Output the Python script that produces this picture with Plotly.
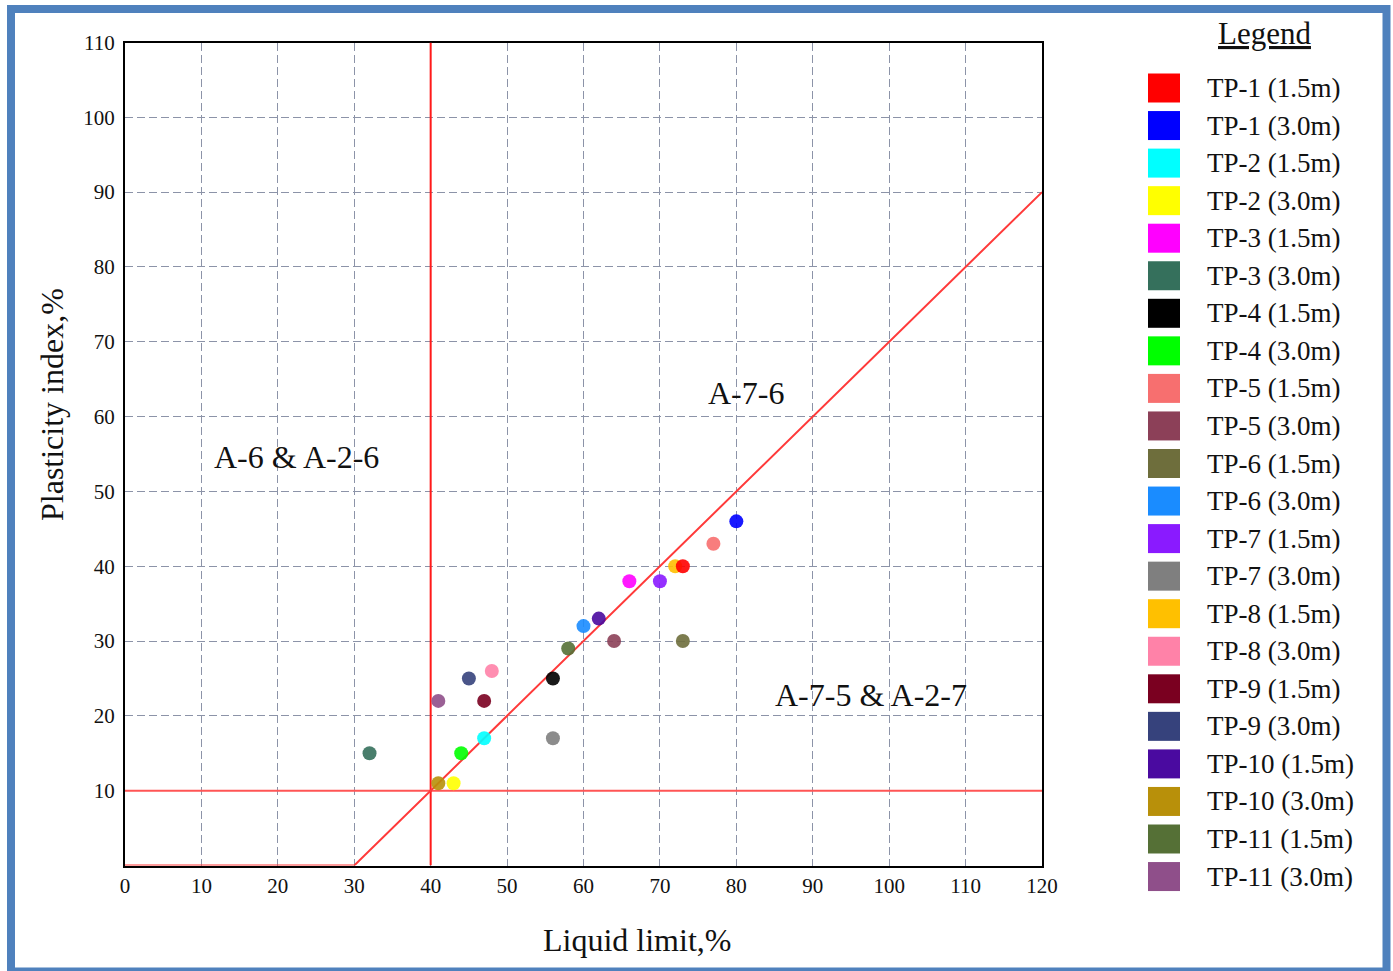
import plotly.graph_objects as go

# ---- sample data: liquid limit (LL, %) and plasticity index (PI, %) ----
samples = [
    "TP-1 (1.5m)", "TP-1 (3.0m)", "TP-2 (1.5m)", "TP-2 (3.0m)",
    "TP-3 (1.5m)", "TP-3 (3.0m)", "TP-4 (1.5m)", "TP-4 (3.0m)",
    "TP-5 (1.5m)", "TP-5 (3.0m)", "TP-6 (1.5m)", "TP-6 (3.0m)",
    "TP-7 (1.5m)", "TP-7 (3.0m)", "TP-8 (1.5m)", "TP-8 (3.0m)",
    "TP-9 (1.5m)", "TP-9 (3.0m)", "TP-10 (1.5m)", "TP-10 (3.0m)",
    "TP-11 (1.5m)", "TP-11 (3.0m)",
]
liquid_limit = [73, 80, 47, 43, 66, 32, 56, 44, 77, 64, 73, 60,
                70, 56, 72, 48, 47, 45, 62, 41, 58, 41]
plasticity_index = [40, 46, 17, 11, 38, 15, 25, 15, 43, 30, 30, 32,
                    38, 17, 40, 26, 22, 25, 33, 11, 29, 22]
colors = [
    "#ff0000", "#0000ff", "#00ffff", "#ffff00",
    "#ff00ff", "#35705c", "#000000", "#00ff00",
    "#f76f6f", "#8c4058", "#6e6e3c", "#1a8cff",
    "#8a1aff", "#7f7f7f", "#ffc000", "#ff82a8",
    "#7a0020", "#36427c", "#4a0aa0", "#b8900a",
    "#557036", "#8f4f8a",
]

# ---- AASHTO classification boundaries ----
a_line_ll = [0, 30, 120]          # PI = LL - 30 (zero below LL = 30)
a_line_pi = [0, 0, 90]
ll_boundary = [40, 40]            # LL = 40
ll_boundary_pi = [0, 110]
pi_boundary_ll = [0, 120]         # PI = 10
pi_boundary = [10, 10]

region_labels = ["A-7-6", "A-6 & A-2-6", "A-7-5 & A-2-7"]
region_ll = [81.2, 22.4, 97.6]
region_pi = [63.2, 54.6, 22.8]

x_ticks = list(range(0, 121, 10))
y_ticks = list(range(10, 111, 10))

W, H = 1393, 971
FONT = "Liberation Serif, Times New Roman, serif"
TXT = "#111111"

fig = go.Figure()

fig.add_trace(go.Scatter(x=pi_boundary_ll, y=pi_boundary, mode="lines",
                         line=dict(color="#ff5555", width=2), showlegend=False,
                         hoverinfo="skip"))
fig.add_trace(go.Scatter(x=ll_boundary, y=ll_boundary_pi, mode="lines",
                         line=dict(color="#ff1a1a", width=2), showlegend=False,
                         hoverinfo="skip"))
fig.add_trace(go.Scatter(x=a_line_ll, y=a_line_pi, mode="lines",
                         line=dict(color="#ff3a3a", width=2), showlegend=False,
                         hoverinfo="skip", cliponaxis=False))

# later traces are drawn on top; draw in reverse so TP-1 sits above TP-8
for i in reversed(range(len(samples))):
    fig.add_trace(go.Scatter(
        x=[liquid_limit[i]], y=[plasticity_index[i]], mode="markers",
        name=samples[i], showlegend=False,
        marker=dict(color=colors[i], size=14, line=dict(width=0), opacity=0.9),
    ))

for lab, xx, yy in zip(region_labels, region_ll, region_pi):
    fig.add_annotation(x=xx, y=yy, text=lab, showarrow=False,
                       xanchor="center", yanchor="middle",
                       font=dict(family=FONT, size=32, color=TXT))

# plot area in pixels
px_l, px_r, px_t, px_b = 125, 1042, 42.5, 865.5

axis_common = dict(
    showline=True, linecolor="#000000", linewidth=2, mirror=True,
    showgrid=True, gridcolor="#8c93a8", gridwidth=1, griddash="8px,4px",
    zeroline=False, ticks="", ticklen=0, automargin=False,
    layer="below traces",
    tickfont=dict(family=FONT, size=21, color=TXT),
)

fig.update_layout(
    width=W, height=H, autosize=False,
    margin=dict(l=0, r=0, t=0, b=0, pad=0, autoexpand=False),
    paper_bgcolor="white", plot_bgcolor="white",
    showlegend=False,
    xaxis=dict(range=[0, 120], tickvals=x_ticks, domain=[px_l / W, px_r / W],
               **axis_common),
    yaxis=dict(range=[0, 110], tickvals=y_ticks,
               domain=[1 - px_b / H, 1 - px_t / H], ticklabelstandoff=4,
               **axis_common),
)

# axis titles
fig.add_annotation(xref="paper", yref="paper", x=637 / W, y=1 - 940 / H,
                   xanchor="center", yanchor="middle",
                   text="Liquid limit,%", showarrow=False,
                   font=dict(family=FONT, size=32, color=TXT))
fig.add_annotation(xref="paper", yref="paper", x=52 / W, y=1 - 405 / H,
                   xanchor="center", yanchor="middle",
                   text="Plasticity index,%", showarrow=False, textangle=-90,
                   font=dict(family=FONT, size=32, color=TXT))

# legend panel
fig.add_annotation(xref="paper", yref="paper", x=1264 / W, y=1 - 34 / H,
                   xanchor="center", yanchor="middle",
                   text="<u>Legend</u>", showarrow=False,
                   font=dict(family=FONT, size=31, color=TXT))
row0, step = 88, 37.55
for i, (name, col) in enumerate(zip(samples, colors)):
    yc = row0 + i * step
    fig.add_shape(type="rect", xref="paper", yref="paper",
                  x0=1148 / W, x1=1180 / W,
                  y0=1 - (yc + 14.5) / H, y1=1 - (yc - 14.5) / H,
                  fillcolor=col, line=dict(width=0))
    fig.add_annotation(xref="paper", yref="paper", x=1205 / W, y=1 - yc / H,
                       xanchor="left", yanchor="middle", text=name,
                       showarrow=False,
                       font=dict(family=FONT, size=27, color=TXT))

# outer frame
fig.add_shape(type="rect", xref="paper", yref="paper",
              x0=11 / W, x1=1386.5 / W, y0=1 - 971.5 / H, y1=1 - 9 / H,
              line=dict(color="#4f81bd", width=8), fillcolor="rgba(0,0,0,0)")

fig.write_html("out.html")
